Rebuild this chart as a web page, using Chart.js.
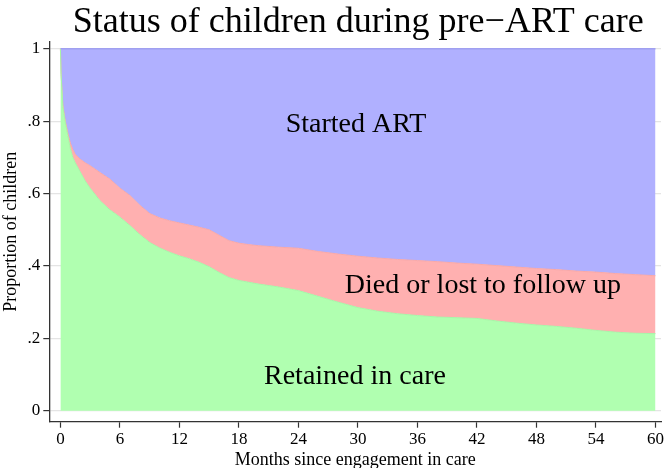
<!DOCTYPE html>
<html>
<head>
<meta charset="utf-8">
<script src="https://cdn.jsdelivr.net/npm/chart.js@4/dist/chart.umd.min.js"></script>
<style>
  html, body { margin: 0; padding: 0; background: #ffffff; }
  #wrap { width: 666px; height: 468px; position: relative; }
</style>
</head>
<body>
<div id="wrap"><canvas id="c" width="666" height="468"></canvas></div>
<script>
// ---- data ----
const months = [0, 0.07, 0.25, 0.5, 0.75, 1, 1.25, 1.5, 2, 2.5, 3, 4, 5, 6, 7, 8, 9, 10, 11, 12, 13, 14, 15, 16, 17, 18, 19, 20, 22, 24, 26, 28, 30, 32, 34, 36, 38, 40, 42, 44, 46, 48, 50, 52, 54, 56, 58, 60];

const retainedInCare = [1.0, 0.93, 0.84, 0.795, 0.76, 0.725, 0.70, 0.685, 0.66, 0.635, 0.615, 0.58, 0.555, 0.535, 0.512, 0.487, 0.465, 0.45, 0.438, 0.428, 0.42, 0.41, 0.398, 0.382, 0.368, 0.36, 0.355, 0.35, 0.342, 0.332, 0.316, 0.3, 0.285, 0.275, 0.268, 0.263, 0.259, 0.257, 0.255, 0.248, 0.242, 0.237, 0.233, 0.228, 0.222, 0.217, 0.214, 0.213];

const diedOrLost = [0, 0, 0.005, 0.005, 0.008, 0.015, 0.022, 0.023, 0.035, 0.05, 0.062, 0.078, 0.085, 0.08, 0.083, 0.081, 0.08, 0.083, 0.087, 0.091, 0.093, 0.097, 0.102, 0.103, 0.102, 0.103, 0.104, 0.106, 0.11, 0.117, 0.124, 0.133, 0.142, 0.147, 0.15, 0.152, 0.153, 0.151, 0.15, 0.153, 0.155, 0.156, 0.157, 0.158, 0.161, 0.162, 0.162, 0.16];

const startedART = [0, 0.07, 0.155, 0.2, 0.232, 0.26, 0.278, 0.292, 0.305, 0.315, 0.323, 0.342, 0.36, 0.385, 0.405, 0.432, 0.455, 0.467, 0.475, 0.481, 0.487, 0.493, 0.5, 0.515, 0.53, 0.537, 0.541, 0.544, 0.548, 0.551, 0.56, 0.567, 0.573, 0.578, 0.582, 0.585, 0.588, 0.592, 0.595, 0.599, 0.603, 0.607, 0.61, 0.614, 0.617, 0.621, 0.624, 0.627];

const xTicks = [0, 6, 12, 18, 24, 30, 36, 42, 48, 54, 60];
const yTicks = [0, 0.2, 0.4, 0.6, 0.8, 1];
const yTickLabels = ['0', '.2', '.4', '.6', '.8', '1'];

const titleText = 'Status of children during pre\u2212ART care';
const xTitle = 'Months since engagement in care';
const yTitle = 'Proportion of children';

// area label anchors (month, proportion) in data space
const areaLabels = [
  { text: 'Started ART', month: 29.8, value: 0.7705 },
  { text: 'Died or lost to follow up', month: 42.6, value: 0.3246 },
  { text: 'Retained in care', month: 29.7, value: 0.073 }
];

// ---- chart ----
const SERIF = '"Liberation Serif", "DejaVu Serif", serif';
const toPts = arr => months.map((m, i) => ({ x: m, y: arr[i] }));

const labelsPlugin = {
  id: 'areaLabels',
  afterDatasetsDraw(chart) {
    const { ctx, scales: { x, y } } = chart;
    ctx.save();
    ctx.fillStyle = '#000';
    ctx.font = '28px ' + SERIF;
    ctx.textAlign = 'center';
    ctx.textBaseline = 'alphabetic';
    areaLabels.forEach(l => {
      ctx.fillText(l.text, x.getPixelForValue(l.month), y.getPixelForValue(l.value));
    });
    ctx.restore();
  },
  afterDraw(chart) {
    const { ctx, chartArea } = chart;
    ctx.save();
    ctx.fillStyle = '#000';
    ctx.font = '36px ' + SERIF;
    ctx.textAlign = 'center';
    ctx.textBaseline = 'alphabetic';
    ctx.fillText(titleText, (chartArea.left + chartArea.right) / 2 + 3, 32);
    ctx.restore();
  }
};

new Chart(document.getElementById('c'), {
  type: 'line',
  data: {
    datasets: [
      {
        label: 'Retained in care',
        data: toPts(retainedInCare),
        backgroundColor: 'rgb(176,255,176)',
        borderColor: 'rgb(168,245,168)',
        borderWidth: 1,
        fill: 'origin',
        pointRadius: 0,
        tension: 0
      },
      {
        label: 'Died or lost to follow up',
        data: toPts(diedOrLost),
        backgroundColor: 'rgb(255,176,176)',
        borderColor: 'rgb(248,168,168)',
        borderWidth: 1,
        fill: '-1',
        pointRadius: 0,
        tension: 0
      },
      {
        label: 'Started ART',
        data: toPts(startedART),
        backgroundColor: 'rgb(176,176,255)',
        borderColor: 'rgb(160,160,240)',
        borderWidth: 1.5,
        fill: '-1',
        pointRadius: 0,
        tension: 0
      }
    ]
  },
  options: {
    responsive: false,
    animation: false,
    devicePixelRatio: 1,
    layout: { padding: { top: 42, right: 3, left: 0, bottom: 0 } },
    plugins: {
      legend: { display: false },
      tooltip: { enabled: false },
      title: { display: false }
    },
    scales: {
      x: {
        type: 'linear',
        min: -1.12,
        max: 60.56,
        afterBuildTicks: s => { s.ticks = xTicks.map(v => ({ value: v })); },
        afterFit: s => { s.height = 46.3; },
        grid: {
          drawOnChartArea: false,
          drawTicks: true,
          tickLength: 6,
          tickColor: '#333',
          tickWidth: 1.2
        },
        border: { display: true, color: '#333', width: 1.3 },
        ticks: {
          color: '#000',
          font: { family: SERIF, size: 17 },
          padding: 2,
          maxRotation: 0,
          autoSkip: false
        },
        title: {
          display: true,
          text: xTitle,
          color: '#000',
          font: { family: SERIF, size: 18 },
          padding: { top: 0, bottom: -3 }
        }
      },
      y: {
        type: 'linear',
        stacked: true,
        min: -0.0304,
        max: 1.019,
        afterBuildTicks: s => { s.ticks = yTicks.map(v => ({ value: v })); },
        afterFit: s => { s.width = 49.3; },
        grid: {
          color: '#e4e4e4',
          lineWidth: 1.2,
          drawTicks: true,
          tickLength: 6,
          tickColor: '#333',
          tickWidth: 1.2
        },
        border: { display: true, color: '#333', width: 1.3 },
        ticks: {
          color: '#000',
          font: { family: SERIF, size: 17 },
          padding: 3,
          callback: (v, i) => yTickLabels[i]
        },
        title: {
          display: true,
          text: yTitle,
          color: '#000',
          font: { family: SERIF, size: 18 },
          padding: { top: 0, bottom: 0 }
        }
      }
    }
  },
  plugins: [labelsPlugin]
});
</script>
</body>
</html>
